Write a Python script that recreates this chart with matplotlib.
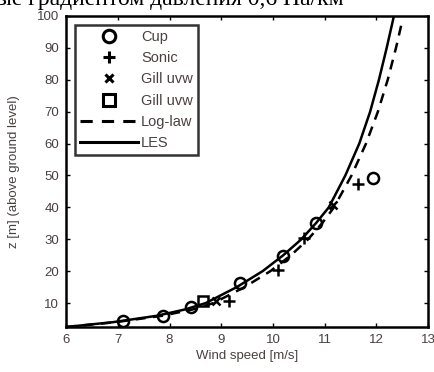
import matplotlib
matplotlib.use("Agg")
import matplotlib.pyplot as plt
from matplotlib.lines import Line2D

# ---- data ----
cup_u = [7.1, 7.88, 8.42, 9.37, 10.2, 10.83, 11.94]
cup_z = [4.5, 5.8, 8.8, 16.2, 24.8, 35.0, 49.3]

sonic_u = [9.15, 10.1, 10.6, 11.65]
sonic_z = [10.5, 20.4, 30.4, 47.2]

gillx_u = [8.9, 11.17]
gillx_z = [10.5, 40.8]

gills_u = [8.65]
gills_z = [10.8]

log_z = [2.5, 4, 6, 8, 10, 15, 20, 25, 30, 35, 40, 50, 60, 70, 80, 90, 97]
log_u = [6.0, 6.95, 7.85, 8.45, 8.85, 9.45, 9.95, 10.35, 10.68, 10.95, 11.18, 11.52, 11.8, 12.03, 12.22, 12.38, 12.48]

les_z = [2.5, 4, 6, 8, 10, 15, 20, 25, 30, 35, 40, 50, 60, 70, 80, 90, 100]
les_u = [6.0, 6.9, 7.75, 8.3, 8.7, 9.3, 9.8, 10.2, 10.55, 10.83, 11.08, 11.4, 11.67, 11.88, 12.05, 12.2, 12.34]

xticks = [6, 7, 8, 9, 10, 11, 12, 13]
yticks = [10, 20, 30, 40, 50, 60, 70, 80, 90, 100]

plt.rcParams['font.family'] = ['Liberation Sans', 'DejaVu Sans']

fig = plt.figure(figsize=(4.35, 3.72), dpi=100)
ax = fig.add_axes([0.152, 0.121, 0.832, 0.836])

lab_col = '#4a4040'

ax.plot(log_u, log_z, color='black', lw=1.8, ls=(0, (4, 3)))
ax.plot(les_u, les_z, color='black', lw=1.8)
ax.plot(cup_u, cup_z, ls='none', marker='o', ms=8, mfc='none', mec='black', mew=1.8)
ax.plot(sonic_u, sonic_z, ls='none', marker='+', ms=8, mec='black', mew=1.8)
ax.plot(gillx_u, gillx_z, ls='none', marker='x', ms=6, mec='black', mew=1.8)
ax.plot(gills_u, gills_z, ls='none', marker='s', ms=7, mfc='none', mec='black', mew=1.8)

ax.set_xlim(6, 13)
ax.set_ylim(2.5, 100)
ax.set_xticks(xticks)
ax.set_yticks(yticks)
ax.tick_params(direction='in', top=True, right=True, length=3, width=1,
               labelsize=9.5, labelcolor=lab_col, pad=5)
for s in ax.spines.values():
    s.set_linewidth(1.8)

ax.set_xlabel('Wind speed [m/s]', fontsize=9.5, color=lab_col, labelpad=3)
ax.set_ylabel('z [m] (above ground level)', fontsize=9.5, color=lab_col, labelpad=12)

handles = [
    Line2D([], [], ls='none', marker='o', ms=9, mfc='none', mec='black', mew=2.2),
    Line2D([], [], ls='none', marker='+', ms=9, mec='black', mew=2.2),
    Line2D([], [], ls='none', marker='x', ms=6, mec='black', mew=2.2),
    Line2D([], [], ls='none', marker='s', ms=8, mfc='none', mec='black', mew=2.2),
    Line2D([], [], color='black', lw=2.2, ls=(0, (4, 3))),
    Line2D([], [], color='black', lw=2.2),
]
labels = ['Cup', 'Sonic', 'Gill uvw', 'Gill uvw', 'Log-law', 'LES']
leg = ax.legend(handles, labels, loc='upper left', bbox_to_anchor=(0.0, 1.0),
                fontsize=10.5, frameon=True, fancybox=False, edgecolor='black',
                handlelength=4.0, handletextpad=0.2, labelspacing=0.5,
                borderpad=0.35, borderaxespad=0.6)
leg.get_frame().set_linewidth(1.8)
for t in leg.get_texts():
    t.set_color(lab_col)

fig.text(-0.01, 1 - 5/372, 'ые градиентом давления 0,6 Па/км', fontsize=17,
         family=['Liberation Serif', 'DejaVu Serif'], va='baseline', ha='left')

fig.savefig('out.png', dpi=100)
